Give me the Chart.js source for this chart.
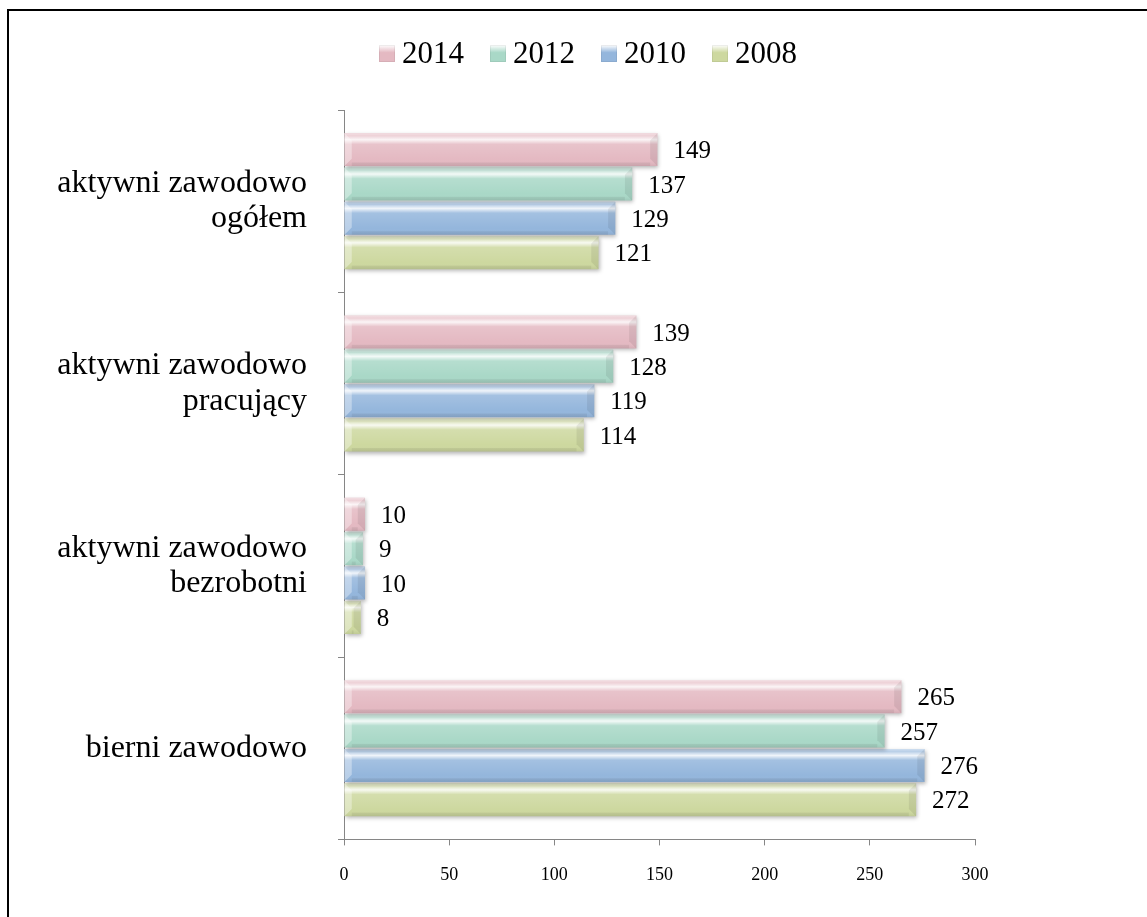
<!DOCTYPE html>
<html>
<head>
<meta charset="utf-8">
<script src="https://cdn.jsdelivr.net/npm/chart.js@4"></script>
<style>
  html, body { margin: 0; padding: 0; background: #fff; overflow: hidden; }
  #wrap { position: relative; width: 1147px; height: 917px; }
  #frame { position: absolute; left: 7px; top: 9px; width: 1300px; height: 1100px;
           border-top: 2px solid #000; border-left: 2px solid #000; }
  #legend { position: absolute; left: 379px; top: 35px; display: flex; gap: 26px;
            font-family: 'Liberation Serif', 'Times New Roman', serif; font-size: 31px; color: #000; }
  #legend .item { display: flex; align-items: center; }
  #legend .box { width: 16px; height: 17px; margin-right: 7px; }
  canvas { position: absolute; left: 0; top: 0; }
</style>
</head>
<body>
<div id="wrap">
  <div id="frame"></div>
  <canvas id="barChart" width="1147" height="917"></canvas>
  <div id="legend"></div>
</div>
<script>
//DATA
const categories = [
    ['aktywni zawodowo', 'ogółem'],
    ['aktywni zawodowo', 'pracujący'],
    ['aktywni zawodowo', 'bezrobotni'],
    'bierni zawodowo'
];
const years = ['2014', '2012', '2010', '2008'];
const data2014 = [149, 139, 10, 265];
const data2012 = [137, 128, 9, 257];
const data2010 = [129, 119, 10, 276];
const data2008 = [121, 114, 8, 272];
const xTicks = [0, 50, 100, 150, 200, 250, 300];

//colors per year
const barColors = ['#e4b9c2', '#a9d8c7', '#94b6dc', '#cdd89f'];
const serif = "'Liberation Serif', 'Times New Roman', serif";
const axisGray = '#868686';

//setup
const dataBars = {
    labels: categories,
    datasets: [data2014, data2012, data2010, data2008].map((vals, i) => ({
        label: years[i],
        data: vals,
        backgroundColor: barColors[i],
        borderWidth: 0,
        categoryPercentage: 0.754,
        barPercentage: 0.96
    }))
};

//bevel look + shadow drawn over the library's bar elements
const bevelPlugin = {
    id: 'bevel',
    beforeDatasetDraw(chart) {
        const ctx = chart.ctx;
        ctx.save();
        ctx.shadowColor = 'rgba(0,0,0,0.28)';
        ctx.shadowBlur = 4;
        ctx.shadowOffsetX = 1;
        ctx.shadowOffsetY = 2;
    },
    afterDatasetDraw(chart, args) {
        const ctx = chart.ctx;
        ctx.restore();
        args.meta.data.forEach(bar => {
            const p = bar.getProps(['x', 'y', 'base', 'height'], true);
            const top = p.y - p.height / 2;
            const left = Math.min(p.base, p.x);
            const w = Math.abs(p.x - p.base);
            const h = p.height;
            const g = ctx.createLinearGradient(0, top, 0, top + h);
            g.addColorStop(0, 'rgba(255,255,255,0.55)');
            g.addColorStop(0.08, 'rgba(255,255,255,0.35)');
            g.addColorStop(0.2, 'rgba(255,255,255,0.85)');
            g.addColorStop(0.34, 'rgba(255,255,255,0.15)');
            g.addColorStop(0.8, 'rgba(255,255,255,0)');
            g.addColorStop(1, 'rgba(0,0,0,0.07)');
            ctx.save();
            ctx.fillStyle = g;
            ctx.fillRect(left, top, w, h);
            //end bevels
            const b = Math.min(h * 0.22, w / 2);
            ctx.fillStyle = 'rgba(0,0,0,0.07)';
            ctx.beginPath();
            ctx.moveTo(left + w, top);
            ctx.lineTo(left + w - b, top + b);
            ctx.lineTo(left + w - b, top + h - b);
            ctx.lineTo(left + w, top + h);
            ctx.closePath();
            ctx.fill();
            ctx.fillStyle = 'rgba(255,255,255,0.35)';
            ctx.beginPath();
            ctx.moveTo(left, top);
            ctx.lineTo(left + b, top + b);
            ctx.lineTo(left + b, top + h - b);
            ctx.lineTo(left, top + h);
            ctx.closePath();
            ctx.fill();
            ctx.fillStyle = 'rgba(0,0,0,0.06)';
            ctx.fillRect(left + b, top + h - b * 0.5, w - 2 * b, b * 0.5);
            ctx.restore();
        });
    }
};

//value labels to the right of each bar
const valueLabels = {
    id: 'valueLabels',
    afterDatasetsDraw(chart) {
        const ctx = chart.ctx;
        ctx.save();
        ctx.font = '25px ' + serif;
        ctx.fillStyle = '#000';
        ctx.textAlign = 'left';
        ctx.textBaseline = 'middle';
        chart.data.datasets.forEach((ds, i) => {
            chart.getDatasetMeta(i).data.forEach((bar, j) => {
                ctx.fillText(ds.data[j], bar.x + 16, bar.y + 2);
            });
        });
        ctx.restore();
    }
};

//html legend
const htmlLegend = {
    id: 'htmlLegend',
    afterUpdate(chart) {
        const box = document.getElementById('legend');
        box.innerHTML = '';
        chart.data.datasets.forEach(ds => {
            const item = document.createElement('div');
            item.className = 'item';
            const sw = document.createElement('div');
            sw.className = 'box';
            sw.style.background = 'linear-gradient(rgba(255,255,255,0.6), ' + ds.backgroundColor + ' 45%, ' + ds.backgroundColor + ')';
            sw.style.boxShadow = 'inset 0 0 0 1px rgba(0,0,0,0.06)';
            const t = document.createElement('span');
            t.textContent = ds.label;
            item.appendChild(sw);
            item.appendChild(t);
            box.appendChild(item);
        });
    }
};

//options
const optionBars = {
    indexAxis: 'y',
    responsive: false,
    animation: false,
    layout: { padding: { top: 110, right: 172, bottom: 12, left: 0 } },
    scales: {
        x: {
            min: 0,
            max: 300,
            afterBuildTicks: scale => { scale.ticks = xTicks.map(v => ({ value: v })); },
            grid: { drawOnChartArea: false, tickLength: 6, color: axisGray },
            border: { color: axisGray },
            ticks: { color: '#000', padding: 19, font: { family: serif, size: 18 } }
        },
        y: {
            afterFit: scale => { scale.width = 344; },
            grid: { drawOnChartArea: false, tickLength: 6, color: axisGray, offset: true },
            border: { color: axisGray },
            ticks: { color: '#000', padding: 31, font: { family: serif, size: 32, lineHeight: 1.1 } }
        }
    },
    plugins: {
        legend: { display: false },
        tooltip: { enabled: false }
    }
};

//render
const barChart = new Chart(
    document.getElementById('barChart').getContext('2d'),
    { type: 'bar', data: dataBars, options: optionBars, plugins: [bevelPlugin, valueLabels, htmlLegend] }
);
</script>
</body>
</html>
